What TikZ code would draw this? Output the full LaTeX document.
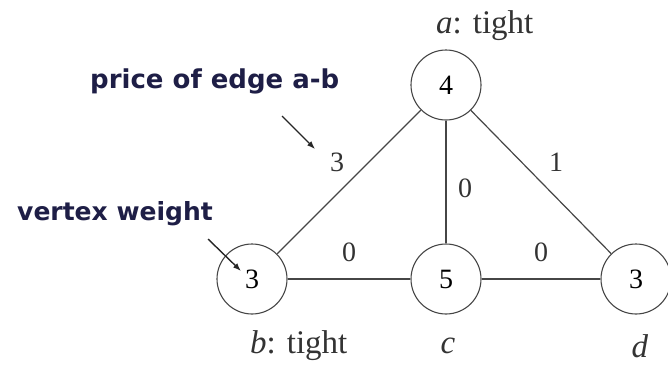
\documentclass[tikz,border=0pt]{standalone}
\usepackage{fontspec}
\setmainfont{Liberation Serif}
\newfontfamily\notefont{DejaVu Sans}
\usetikzlibrary{arrows.meta}
\definecolor{notecol}{RGB}{30,30,70}
\definecolor{linecol}{RGB}{70,70,70}
\begin{document}
\begin{tikzpicture}[x=1pt,y=-1pt,
  vtx/.style={circle,draw=linecol,line width=1.1pt,minimum size=70pt,inner sep=0pt,font=\fontsize{28}{30}\selectfont},
  edge/.style={draw=linecol,line width=1.2pt},
  elab/.style={font=\fontsize{28}{30}\selectfont,text=black!80,inner sep=0pt},
  vlab/.style={font=\fontsize{33}{36}\selectfont,text=black!80,inner sep=0pt},
  note/.style={text=notecol,inner sep=0pt},
  ptr/.style={-{Latex[length=8pt,width=6pt]},line width=1.4pt,draw=black!85}]
\useasboundingbox (0,0) rectangle (668,364);
\node[vtx] (a) at (446,85) {4};
\node[vtx] (b) at (252,279) {3};
\node[vtx] (c) at (446,279) {5};
\node[vtx] (d) at (636,279) {3};
\draw[edge] (a) -- (b);
\draw[edge] (a) -- (c);
\draw[edge] (a) -- (d);
\draw[edge] (b) -- (c);
\draw[edge] (c) -- (d);
\node[elab] (l1) at (337,162) {3};
\node[elab] (l2) at (465,188) {0};
\node[elab] (l3) at (556,162) {1};
\node[elab] (l4) at (349,252) {0};
\node[elab] (l5) at (541,252) {0};
\node[vlab,anchor=west] (la) at (436,26) {\textit{a}: tight};
\node[vlab,anchor=west] (lb) at (250,346) {\textit{b}: tight};
\node[vlab] (lc) at (448,346) {\textit{c}};
\node[vlab] (ld) at (640,346) {\textit{d}};
\node[note,anchor=west,font=\notefont\bfseries\fontsize{26}{28}\selectfont] (n1) at (90,81) {price of edge a-b};
\node[note,anchor=west,font=\notefont\bfseries\fontsize{25}{28}\selectfont] (n2) at (17,214) {vertex weight};
\coordinate (p1s) at (282,116);
\coordinate (p1e) at (315,149);
\coordinate (p2s) at (208,239);
\coordinate (p2e) at (241,271);
\draw[ptr] (p1s) -- (p1e);
\draw[ptr] (p2s) -- (p2e);
\end{tikzpicture}
\end{document}
